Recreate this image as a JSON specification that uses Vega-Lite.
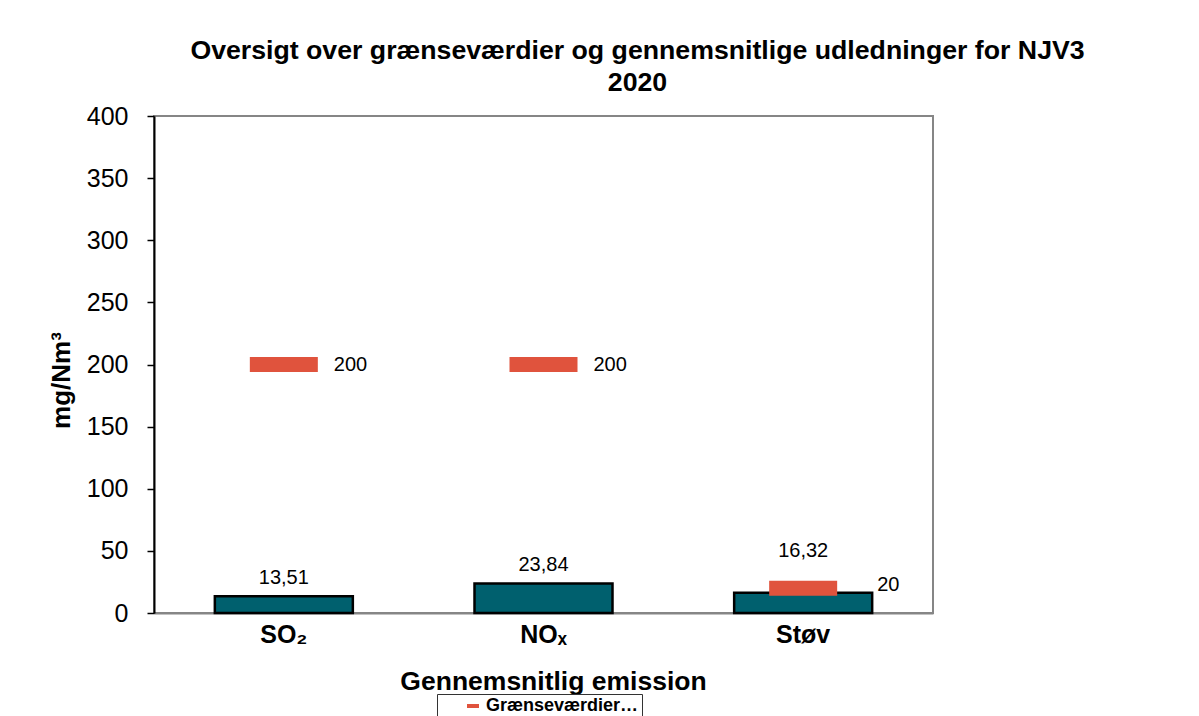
{
  "$schema": "https://vega.github.io/schema/vega-lite/v6.json",
  "width": 779,
  "height": 497,
  "autosize": {"type": "none"},
  "padding": {"left": 154, "top": 116, "right": 266, "bottom": 103},
  "background": "white",
  "title": {
    "text": ["Oversigt over grænseværdier og gennemsnitlige udledninger for NJV3", "2020"],
    "font": "Liberation Sans",
    "fontSize": 26.7,
    "fontWeight": "bold",
    "color": "black",
    "anchor": "middle",
    "frame": "group",
    "dx": 94,
    "lineHeight": 32,
    "offset": 7
  },
  "data": {
    "values": [
      {"Emission": "SO₂", "Gennemsnit": 13.51, "Label": "13,51", "Graense": 200, "GLabel": "200"},
      {"Emission": "NOₓ", "Gennemsnit": 23.84, "Label": "23,84", "Graense": 200, "GLabel": "200"},
      {"Emission": "Støv", "Gennemsnit": 16.32, "Label": "16,32", "Graense": 20, "GLabel": "20"}
    ]
  },
  "encoding": {
    "x": {
      "field": "Emission",
      "type": "nominal",
      "sort": null,
      "scale": {"paddingInner": 0, "paddingOuter": 0},
      "axis": {
        "title": "Gennemsnitlig emission",
        "labelAngle": 0,
        "ticks": false,
        "domainColor": "#868686",
        "domainWidth": 2,
        "labelFont": "Liberation Sans",
        "labelFontSize": 25,
        "labelFontWeight": "bold",
        "labelPadding": 9,
        "labelColor": "black",
        "titleFont": "Liberation Sans",
        "titleFontSize": 26.5,
        "titleFontWeight": "bold",
        "titlePadding": 21,
        "titleColor": "black",
        "titleX": 399,
        "titleAlign": "center"
      }
    }
  },
  "layer": [
    {
      "mark": {"type": "bar", "fill": "#00606E", "stroke": "black", "strokeWidth": 2.5, "size": 138},
      "encoding": {
        "y": {
          "field": "Gennemsnit",
          "type": "quantitative",
          "scale": {"domain": [0, 400], "nice": false},
          "axis": {
            "title": "mg/Nm³",
            "values": [0, 50, 100, 150, 200, 250, 300, 350, 400],
            "grid": false,
            "domainColor": "black",
            "domainWidth": 2,
            "tickColor": "black",
            "tickWidth": 1.5,
            "tickSize": 7,
            "labelFont": "Liberation Sans",
            "labelFontSize": 25,
            "labelPadding": 19,
            "labelColor": "black",
            "titleFont": "Liberation Sans",
            "titleFontSize": 26,
            "titleFontWeight": "bold",
            "titleColor": "black",
            "titleAngle": -90,
            "titleX": -85,
            "titleY": 264,
            "titleAlign": "center",
            "titleBaseline": "alphabetic"
          }
        }
      }
    },
    {
      "transform": [{"filter": "datum.Emission != 'Støv'"}],
      "mark": {"type": "text", "baseline": "alphabetic", "dy": -12, "fontSize": 20, "font": "Liberation Sans", "color": "black"},
      "encoding": {
        "y": {"field": "Gennemsnit", "type": "quantitative"},
        "text": {"field": "Label"}
      }
    },
    {
      "transform": [{"filter": "datum.Emission == 'Støv'"}],
      "mark": {"type": "text", "baseline": "alphabetic", "dy": -36, "fontSize": 20, "font": "Liberation Sans", "color": "black"},
      "encoding": {
        "y": {"field": "Gennemsnit", "type": "quantitative"},
        "text": {"field": "Label"}
      }
    },
    {
      "mark": {"type": "tick", "thickness": 15, "size": 68, "orient": "horizontal", "opacity": 1},
      "encoding": {
        "y": {"field": "Graense", "type": "quantitative"},
        "color": {
          "datum": "Grænseværdier…",
          "type": "nominal",
          "scale": {"range": ["#E0533D"]},
          "legend": {
            "orient": "none",
            "legendX": 283,
            "legendY": 578,
            "title": null,
            "strokeColor": "#333333",
            "padding": 3,
            "symbolType": "stroke",
            "symbolStrokeWidth": 4,
            "symbolSize": 144,
            "symbolStrokeColor": "#E0533D",
            "symbolOffset": 24,
            "labelFont": "Liberation Sans",
            "labelFontSize": 18,
            "labelFontWeight": "bold",
            "labelColor": "black",
            "labelLimit": 300
          }
        }
      }
    },
    {
      "transform": [{"filter": "datum.Graense >= 100"}],
      "mark": {"type": "text", "align": "left", "baseline": "middle", "dx": 50, "fontSize": 20, "font": "Liberation Sans", "color": "black"},
      "encoding": {
        "y": {"field": "Graense", "type": "quantitative"},
        "text": {"field": "GLabel"}
      }
    },
    {
      "transform": [{"filter": "datum.Graense < 100"}],
      "mark": {"type": "text", "align": "left", "baseline": "middle", "dx": 74, "dy": -3, "fontSize": 20, "font": "Liberation Sans", "color": "black"},
      "encoding": {
        "y": {"field": "Graense", "type": "quantitative"},
        "text": {"field": "GLabel"}
      }
    }
  ],
  "config": {
    "view": {"stroke": "#868686", "strokeWidth": 2},
    "font": "Liberation Sans"
  }
}
